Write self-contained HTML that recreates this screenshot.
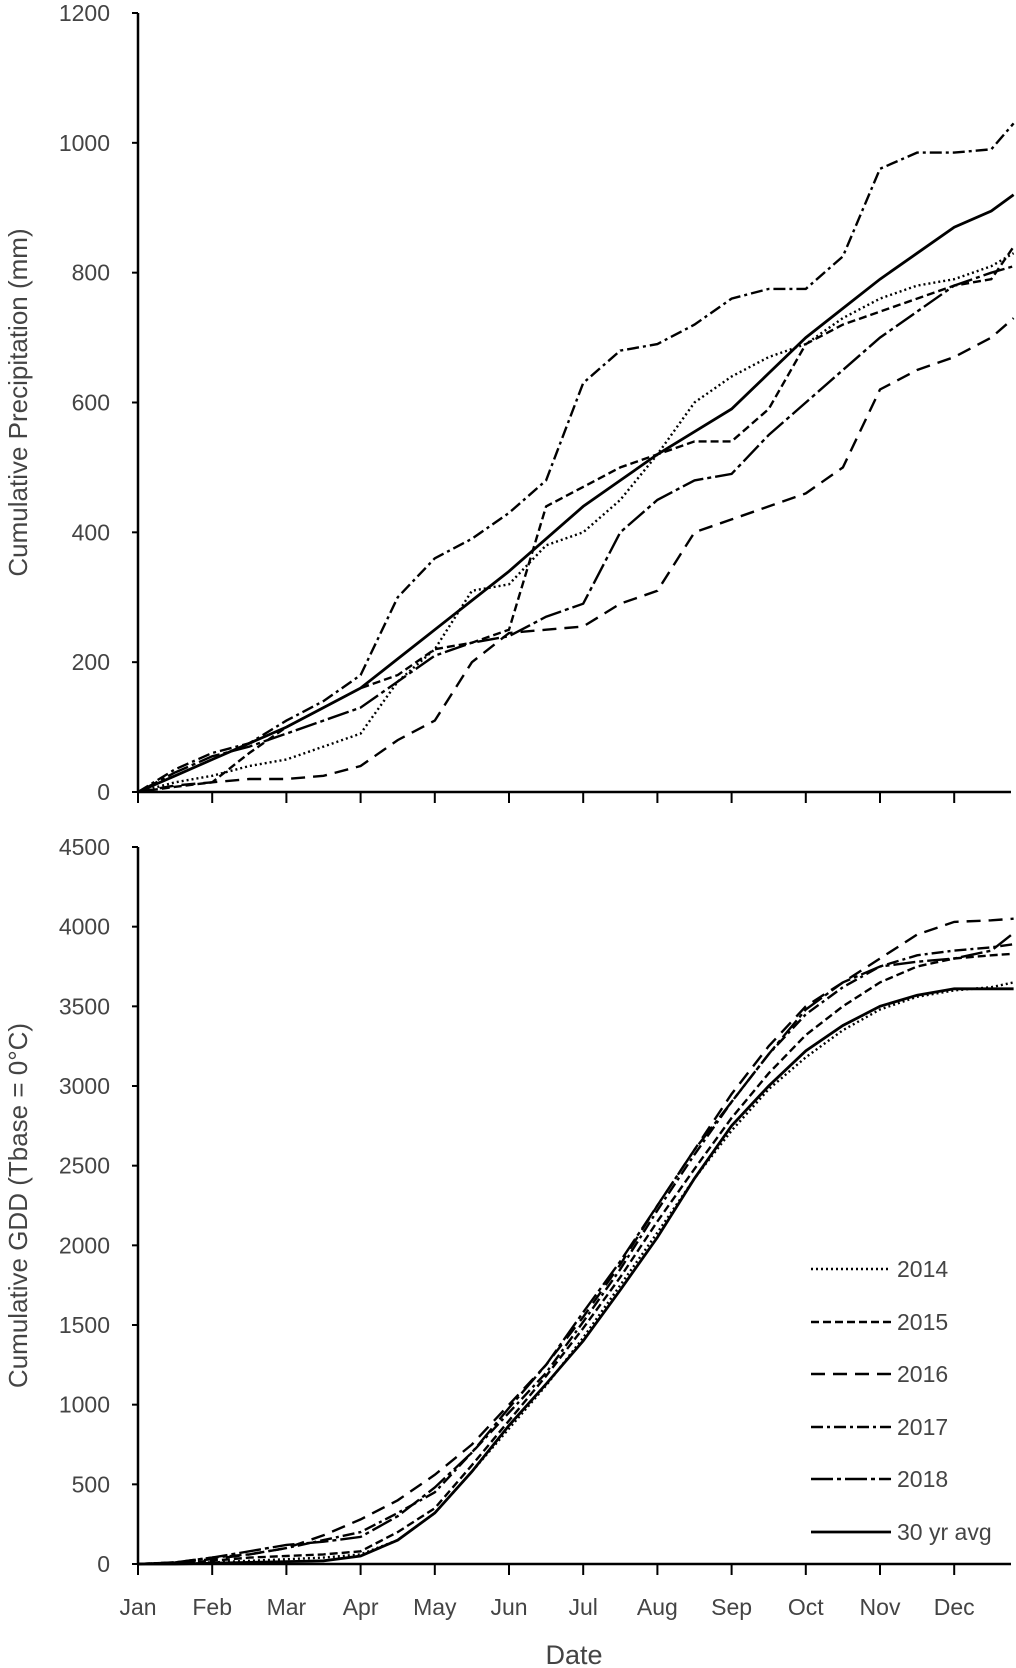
<!DOCTYPE html>
<html><head><meta charset="utf-8"><style>
html,body{margin:0;padding:0;background:#fff}
svg{display:block}
text{font-family:"Liberation Sans Narrow","Liberation Sans",sans-serif;fill:#444}
</style></head><body>
<svg id="chart" width="1016" height="1668" viewBox="0 0 1016 1668" xmlns="http://www.w3.org/2000/svg"></svg>
<script>
const months=["Jan","Feb","Mar","Apr","May","Jun","Jul","Aug","Sep","Oct","Nov","Dec"];
const samplePos=[0,0.5,1,1.5,2,2.5,3,3.5,4,4.5,5,5.5,6,6.5,7,7.5,8,8.5,9,9.5,10,10.5,11,11.5,11.8];
const seriesNames=["2014","2015","2016","2017","2018","30 yr avg"];
const precip2014=[0,15,25,40,50,70,90,170,220,310,320,380,400,450,520,600,640,670,690,730,760,780,790,810,830];
const precip2015=[0,8,15,60,100,130,160,180,220,230,250,440,470,500,520,540,540,590,690,720,740,760,780,790,840];
const precip2016=[0,10,15,20,20,25,40,80,110,200,245,250,255,290,310,400,420,440,460,500,620,650,670,700,730];
const precip2017=[0,35,60,75,110,140,180,300,360,390,430,480,630,680,690,720,760,775,775,825,960,985,985,990,1030];
const precip2018=[0,30,55,70,90,110,130,170,210,230,240,270,290,400,450,480,490,550,600,650,700,740,780,800,810];
const precipAvg=[0,25,50,75,100,130,160,205,250,295,340,390,440,480,520,555,590,645,700,745,790,830,870,895,920];
const gdd2014=[0,5,10,20,30,40,60,150,320,580,850,1120,1420,1750,2080,2420,2720,2980,3180,3350,3480,3560,3600,3620,3650];
const gdd2015=[0,5,20,40,50,60,80,200,350,620,900,1180,1480,1800,2150,2480,2800,3080,3320,3500,3650,3750,3800,3820,3830];
const gdd2016=[0,10,30,60,100,180,280,400,560,750,1000,1250,1550,1880,2250,2600,2950,3250,3500,3650,3800,3950,4030,4040,4050];
const gdd2017=[0,10,40,60,100,150,200,320,450,700,950,1200,1520,1850,2220,2570,2900,3200,3450,3620,3750,3820,3850,3870,3890];
const gdd2018=[0,10,40,80,120,140,170,300,480,700,980,1250,1580,1900,2250,2600,2900,3200,3480,3650,3750,3780,3800,3850,3960];
const gddAvg=[0,0,5,10,15,20,50,150,320,580,870,1130,1400,1720,2050,2420,2750,3000,3220,3380,3500,3570,3610,3610,3610];
const precipTicks=[0,200,400,600,800,1000,1200];
const gddTicks=[0,500,1000,1500,2000,2500,3000,3500,4000,4500];

const NS="http://www.w3.org/2000/svg";
const svg=document.getElementById('chart');
const dashes=["2,3","8,4","14,8","12,4,3,4","22,4,4,4",""];
const X0=138,X1=1011,MW=74.2;
function xs(m){return X0+m*MW;}
function mk(tag,attrs){const e=document.createElementNS(NS,tag);for(const k in attrs)e.setAttribute(k,attrs[k]);svg.appendChild(e);return e;}
function panel(name,yTop,yBot,max,ticks,series,title,showMonths){
  const ys=v=>yBot-(v/max)*(yBot-yTop);
  let a=mk('line',{x1:X0,y1:yTop,x2:X0,y2:yBot,stroke:'#000','stroke-width':2.5});
  
  
  a=mk('line',{x1:X0,y1:yBot,x2:X1,y2:yBot,stroke:'#000','stroke-width':2.5});
  
  
  ticks.forEach(t=>{
    const tl=mk('line',{x1:X0-6,y1:ys(t),x2:X0,y2:ys(t),stroke:'#000','stroke-width':2});
    
    
    const tx=mk('text',{x:X0-28,y:ys(t)+8,'text-anchor':'end','font-size':23});
    tx.textContent=t;
    
    
  });
  months.forEach((m,i)=>{
    const tl=mk('line',{x1:xs(i),y1:yBot,x2:xs(i),y2:yBot+11,stroke:'#000','stroke-width':2});
    
    
    if(showMonths){
      const tx=mk('text',{x:xs(i),y:yBot+51,'text-anchor':'middle','font-size':23});
      tx.textContent=m;
      
      
    }
  });
  const cy=(yTop+yBot)/2;
  const tt=mk('text',{x:0,y:0,'text-anchor':'middle','font-size':26,transform:`translate(27,${cy}) rotate(-90)`});
  tt.textContent=title;
  
  
  series.forEach((s,k)=>{
    const pts=s.map((v,i)=>xs(samplePos[i]).toFixed(1)+','+ys(v).toFixed(1)).join(' ');
    const p=mk('polyline',{points:pts,fill:'none',stroke:'#000','stroke-width':k==5?2.8:2.4,'stroke-dasharray':dashes[k]});
    
    
  });
}
panel('precip',13,792,1200,precipTicks,[precip2014,precip2015,precip2016,precip2017,precip2018,precipAvg],'Cumulative Precipitation (mm)',false);
panel('gdd',847,1564,4500,gddTicks,[gdd2014,gdd2015,gdd2016,gdd2017,gdd2018,gddAvg],'Cumulative GDD (Tbase = 0°C)',true);
const xt=mk('text',{x:574,y:1664,'text-anchor':'middle','font-size':27});
xt.textContent='Date';


const legY=[1269,1322,1374,1427,1479,1532];
seriesNames.forEach((n,k)=>{
  const l=mk('line',{x1:811,y1:legY[k],x2:891,y2:legY[k],stroke:'#000','stroke-width':k==5?2.8:2.4,'stroke-dasharray':dashes[k]});
  
  
  const t=mk('text',{x:897,y:legY[k]+8,'font-size':23});
  t.textContent=n;
  
  
});
</script>
</body></html>
